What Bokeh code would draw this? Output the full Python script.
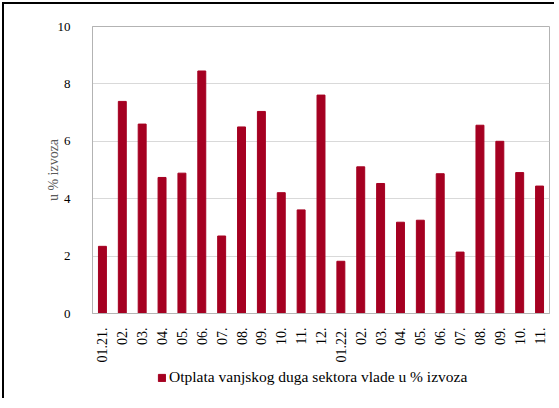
from bokeh.plotting import figure
from bokeh.models import FixedTicker, Legend, LegendItem, ColumnDataSource, Range1d
from bokeh.layouts import column
from bokeh.embed import file_html
from bokeh.resources import INLINE
import math

labels = ["01.21.", "02.", "03.", "04.", "05.", "06.", "07.", "08.", "09.", "10.", "11.", "12.",
          "01.22.", "02.", "03.", "04.", "05.", "06.", "07.", "08.", "09.", "10.", "11."]
values = [2.34, 7.39, 6.60, 4.74, 4.89, 8.45, 2.70, 6.50, 7.04, 4.21, 3.61, 7.61,
          1.82, 5.11, 4.53, 3.18, 3.25, 4.87, 2.14, 6.56, 6.00, 4.91, 4.44]
y_ticks = [0, 2, 4, 6, 8, 10]
series_name = "Otplata vanjskog duga sektora vlade u % izvoza"
y_label = "u % izvoza"

FONT = "Liberation Serif"
BAR = "#A50021"

idx = list(range(len(labels)))
src = ColumnDataSource(dict(x=idx, top=values))

p = figure(frame_width=455, frame_height=285, output_backend="svg", toolbar_location=None,
           x_range=(-0.5, len(labels) - 0.5), y_range=(0, 10),
           min_border_left=88, min_border_right=7, min_border_top=22, min_border_bottom=55,
           styles={"margin-left": "2px", "margin-top": "2px",
                   "border-top": "2px solid black", "border-left": "2px solid black"})

r = p.vbar(x="x", top="top", width=0.4, source=src, color=BAR)

p.outline_line_color = "#b3b3b3"
p.outline_line_width = 1
p.xgrid.grid_line_color = None
p.ygrid.grid_line_color = "#d9d9d9"
p.ygrid.grid_line_width = 1

p.xaxis.ticker = FixedTicker(ticks=idx)
p.xaxis.major_label_overrides = {i: l for i, l in enumerate(labels)}
p.xaxis.major_label_orientation = math.pi / 2
p.xaxis.major_tick_line_color = None
p.xaxis.minor_tick_line_color = None
p.xaxis.axis_line_color = "#b3b3b3"
p.xaxis.major_label_text_font = FONT
p.xaxis.major_label_text_font_size = "14px"
p.xaxis.major_label_text_color = "black"
p.xaxis.major_label_standoff = 8

p.yaxis.ticker = FixedTicker(ticks=y_ticks)
p.yaxis.major_tick_line_color = None
p.yaxis.minor_tick_line_color = None
p.yaxis.axis_line_color = "#b3b3b3"
p.yaxis.major_label_text_font = FONT
p.yaxis.major_label_text_font_size = "13px"
p.yaxis.major_label_text_color = "black"
p.yaxis.major_label_standoff = 16
p.yaxis.axis_label = y_label
p.yaxis.axis_label_text_font = FONT
p.yaxis.axis_label_text_font_size = "14px"
p.yaxis.axis_label_text_font_style = "normal"
p.yaxis.axis_label_text_color = "#595959"
p.yaxis.axis_label_standoff = -6

# separate strip holding the legend (below the chart); its frame is aligned with the chart's frame
pl = figure(width=550, height=32, output_backend="svg", toolbar_location=None,
            x_axis_type=None, y_axis_type=None, min_border=0,
            x_range=Range1d(-0.5, len(labels) - 0.5), y_range=Range1d(50, 60),
            styles={"margin-left": "2px", "border-left": "2px solid black"})
pl.outline_line_color = None
pl.grid.grid_line_color = None
# legend proxy: same bar style, lies outside this strip's visible range
proxy = pl.vbar(x=idx[:1], top=values[:1], width=0.4, color=BAR)

legend = Legend(items=[LegendItem(label=series_name, renderers=[proxy])],
                location=(65, 12), orientation="horizontal",
                label_text_font=FONT, label_text_font_size="15.5px",
                label_text_color="black",
                glyph_width=9, glyph_height=9, label_standoff=3,
                padding=0, margin=0, border_line_color=None,
                background_fill_alpha=0)
pl.add_layout(legend, "center")

layout = column(p, pl, spacing=0)
open("out.html", "w").write(file_html(layout, INLINE))
